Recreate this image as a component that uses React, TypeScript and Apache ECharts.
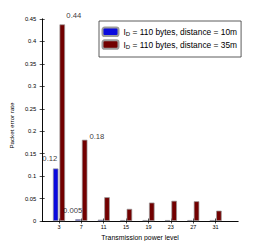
import { useEffect, useRef } from 'react';
import * as echarts from 'echarts';

const powerLevels = [3, 7, 11, 15, 19, 23, 27, 31];
const per10m = [0.117, 0.004, 0.003, 0.002, 0.002, 0.002, 0.002, 0.002];
const per35m = [0.438, 0.181, 0.053, 0.027, 0.041, 0.045, 0.044, 0.023];
const seriesNames = ['I_D = 110 bytes, distance = 10m', 'I_D = 110 bytes, distance = 35m'];
const legendRest = [' = 110 bytes, distance = 10m', ' = 110 bytes, distance = 35m'];
const seriesColors = ['#0a0ade', '#720000'];
const annotX = [5.66, 1.37, 9.78, 5.45];
const annotY = [0.457, 0.14, 0.189, 0.0245];
const annotText = ['0.44', '0.12', '0.18', '0.005'];
const xTitle = 'Transmission power level';
const yTitle = 'Packet error rate';

const FONT = 'Liberation Sans, Arial, Helvetica, sans-serif';

export default function App() {
  const ref = useRef<HTMLDivElement>(null);
  useEffect(() => {
    if (!ref.current) return;
    const chart = echarts.init(ref.current, undefined, { renderer: 'svg' });
    const tickCommon = { show: true, inside: true, length: 2.5, lineStyle: { color: '#000', width: 0.7 } };
    const lineCommon = { show: true, lineStyle: { color: '#000', width: 0.8 } };
    const mkBar = (i: number, vals: number[]) => ({
      type: 'bar',
      name: seriesNames[i],
      xAxisIndex: 0,
      yAxisIndex: 0,
      barWidth: 5.5,
      barGap: '20%',
      itemStyle: { color: seriesColors[i], borderColor: '#9a9a9a', borderWidth: 0.7 },
      data: powerLevels.map((x, k) => [x, vals[k]]),
    });
    chart.setOption({
      animation: false,
      textStyle: { fontFamily: FONT },
      grid: { left: 34, right: 25, top: 19, bottom: 28, containLabel: false },
      legend: {
        show: true,
        data: seriesNames,
        orient: 'vertical',
        left: 99,
        top: 21,
        width: 137,
        itemWidth: 16,
        itemHeight: 8.5,
        itemGap: 2,
        padding: [5.5, 4, 7, 2.5],
        borderColor: '#333',
        borderWidth: 0.8,
        backgroundColor: '#fff',
        selectedMode: false,
        formatter: (name: string) => {
          const i = seriesNames.indexOf(name);
          return `{n|I}{s|D}{n|${legendRest[i]}}`;
        },
        textStyle: {
          fontFamily: FONT,
          color: '#000',
          rich: {
            n: { fontSize: 8.4, lineHeight: 11, fontFamily: FONT, color: '#000' },
            s: { fontSize: 6, lineHeight: 2, verticalAlign: 'bottom', fontFamily: FONT, color: '#000' },
          },
        },
      },
      xAxis: [
        {
          type: 'value',
          min: 0,
          max: 35,
          position: 'bottom',
          name: xTitle,
          nameLocation: 'middle',
          nameGap: 11,
          nameTextStyle: { fontSize: 6.9, color: '#000', fontFamily: FONT },
          axisLine: lineCommon,
          axisTick: { ...tickCommon, customValues: powerLevels },
          axisLabel: { show: true, customValues: powerLevels, fontSize: 5.5, margin: 2.5, color: '#000', fontFamily: FONT },
          splitLine: { show: false },
        },
        {
          type: 'value',
          min: 0,
          max: 35,
          position: 'top',
          axisLine: lineCommon,
          axisTick: { ...tickCommon, customValues: powerLevels },
          axisLabel: { show: false, customValues: powerLevels },
          splitLine: { show: false },
        },
      ],
      yAxis: [
        {
          type: 'value',
          min: 0,
          max: 0.45,
          interval: 0.05,
          position: 'left',
          name: yTitle,
          nameLocation: 'middle',
          nameGap: 18,
          nameTextStyle: { fontSize: 6.2, color: '#000', fontFamily: FONT, padding: [0, 11, 0, 0] },
          axisLine: lineCommon,
          axisTick: tickCommon,
          axisLabel: {
            fontSize: 5.8,
            margin: 6,
            color: '#000',
            fontFamily: FONT,
            formatter: (v: number) => String(+v.toFixed(2)),
          },
          splitLine: { show: false },
        },
        {
          type: 'value',
          min: 0,
          max: 0.45,
          interval: 0.05,
          position: 'right',
          axisLine: lineCommon,
          axisTick: tickCommon,
          axisLabel: { show: false },
          splitLine: { show: false },
        },
      ],
      series: [
        mkBar(0, per10m),
        mkBar(1, per35m),
        {
          type: 'scatter',
          xAxisIndex: 0,
          yAxisIndex: 0,
          symbolSize: 1,
          clip: false,
          silent: true,
          itemStyle: { color: 'rgba(0,0,0,0)' },
          label: {
            show: true,
            position: 'inside',
            formatter: '{b}',
            fontSize: 7.7,
            color: '#000',
            fontFamily: FONT,
          },
          data: annotText.map((t, k) => ({ name: t, value: [annotX[k], annotY[k]] })),
        },
      ],
    });
    return () => chart.dispose();
  }, []);
  return <div ref={ref} style={{ width: 263, height: 249, margin: -8 }} />;
}
